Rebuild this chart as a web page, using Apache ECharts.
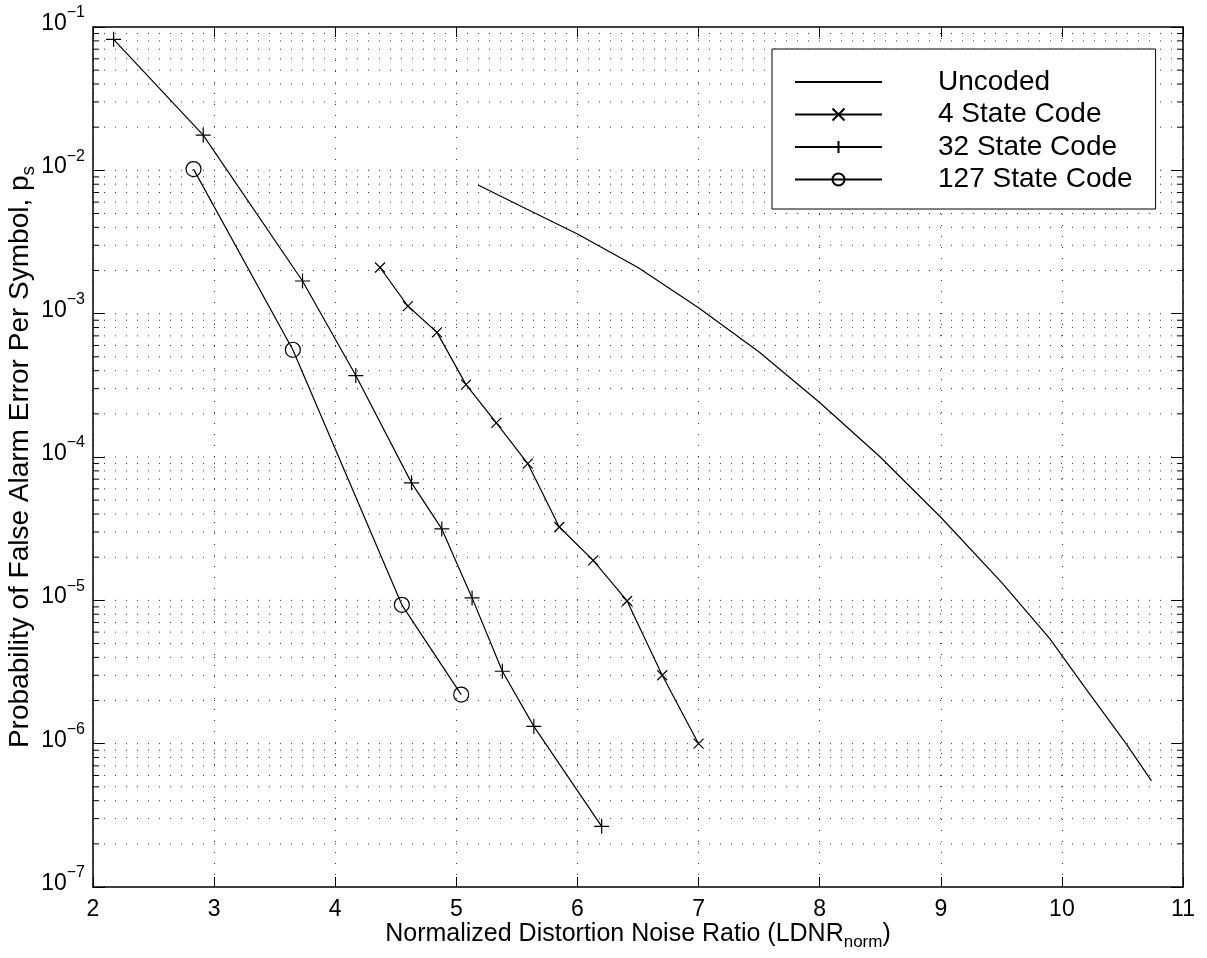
<!DOCTYPE html>
<html lang="en">
<head>
  <meta charset="UTF-8">
  <title>False alarm error vs LDNR</title>
  <script src="https://cdn.jsdelivr.net/npm/echarts@6/dist/echarts.min.js"></script>
  <style>
    html, body { margin: 0; padding: 0; background: #fff; }
    #chart { width: 1207px; height: 958px; }
  </style>
</head>
<body>
<div id="chart"></div>
<script>
  // axis ticks
  var xTicks = [2, 3, 4, 5, 6, 7, 8, 9, 10, 11];
  var yExponents = [-7, -6, -5, -4, -3, -2, -1];
  var minorSteps = [2, 3, 4, 5, 6, 7, 8, 9];

  var seriesNames = ['Uncoded', '4 State Code', '32 State Code', '127 State Code'];

  // values
  var uncodedX = [5.18, 5.5, 6.0, 6.5, 7.0, 7.5, 8.0, 8.5, 9.0, 9.5, 9.9, 10.2, 10.53, 10.74];
  var uncodedY = [7.9e-3, 5.8e-3, 3.6e-3, 2.1e-3, 1.1e-3, 5.4e-4, 2.4e-4, 1.0e-4, 3.8e-5, 1.34e-5, 5.4e-6, 2.4e-6, 1.0e-6, 5.5e-7];

  var state4X = [4.37, 4.60, 4.84, 5.08, 5.33, 5.59, 5.85, 6.13, 6.41, 6.70, 7.00];
  var state4Y = [2.1e-3, 1.13e-3, 7.4e-4, 3.2e-4, 1.73e-4, 9.0e-5, 3.25e-5, 1.9e-5, 9.9e-6, 3.0e-6, 1.0e-6];

  var state32X = [2.17, 2.91, 3.73, 4.17, 4.63, 4.88, 5.13, 5.38, 5.64, 6.20];
  var state32Y = [8.2e-2, 1.76e-2, 1.69e-3, 3.7e-4, 6.6e-5, 3.15e-5, 1.04e-5, 3.2e-6, 1.32e-6, 2.65e-7];

  var state127X = [2.83, 3.65, 4.55, 5.04];
  var state127Y = [1.02e-2, 5.6e-4, 9.3e-6, 2.2e-6];

  var FONT = '"Liberation Sans", Arial, Helvetica, sans-serif';
  var xMin = xTicks[0], xMax = xTicks[xTicks.length - 1];
  var yMin = Math.pow(10, yExponents[0]), yMax = Math.pow(10, yExponents[yExponents.length - 1]);

  function pairs(xs, ys) {
    return xs.map(function (x, i) { return [x, ys[i]]; });
  }

  // dotted horizontal grid (decades + 2..9 steps) and the small minor ticks,
  // drawn as broken line series so they go through the log axis
  var gridData = [];
  var minorTickData = [];
  var tickLen = 0.05;
  yExponents.forEach(function (e, i) {
    var base = Math.pow(10, e);
    if (i > 0 && i < yExponents.length - 1) {
      gridData.push([xMin, base], [xMax, base], [xMax, '-']);
    }
    if (i === yExponents.length - 1) return;
    minorSteps.forEach(function (k) {
      var v = k * base;
      gridData.push([xMin, v], [xMax, v], [xMax, '-']);
      minorTickData.push([xMin, v], [xMin + tickLen, v], [xMin, '-']);
      minorTickData.push([xMax - tickLen, v], [xMax, v], [xMax, '-']);
    });
  });

  var chart = echarts.init(document.getElementById('chart'));

  var lineStyle = { color: '#000', width: 1.2 };
  var markStyle = { color: 'rgba(0,0,0,0)', borderColor: '#000', borderWidth: 1.2 };
  var axisLine = { show: true, lineStyle: { color: '#000', width: 1.5 } };
  var nameRich = {
    b: { fontFamily: FONT, fontSize: 25, lineHeight: 26, verticalAlign: 'middle', color: '#000' },
    sub: { fontFamily: FONT, fontSize: 17, lineHeight: 16, padding: [16, 0, 0, 0], verticalAlign: 'middle', color: '#000' }
  };
  var yNameRich = {
    b: { fontFamily: FONT, fontSize: 28, lineHeight: 28, verticalAlign: 'middle', color: '#000' },
    sub: { fontFamily: FONT, fontSize: 19, lineHeight: 18, padding: [18, 0, 0, 0], verticalAlign: 'middle', color: '#000' }
  };

  var option = {
    animation: false,
    backgroundColor: '#fff',
    grid: { left: 93, right: 24, top: 27, bottom: 71, outerBoundsMode: 'none', containLabel: false },
    legend: {
      data: seriesNames,
      orient: 'vertical',
      left: 772,
      top: 49,
      padding: [19, 23, 15.5, 22],
      itemWidth: 87,
      itemHeight: 15,
      itemGap: 4.5,
      selectedMode: false,
      backgroundColor: '#fff',
      borderColor: '#000',
      borderWidth: 1,
      borderRadius: 0,
      textStyle: { fontFamily: FONT, fontSize: 28, color: '#000', padding: [0, 0, 0, 51] }
    },
    xAxis: [{
      type: 'value',
      position: 'bottom',
      min: xMin,
      max: xMax,
      interval: 1,
      axisLine: axisLine,
      axisTick: { inside: true, length: 10, lineStyle: { color: '#000', width: 1 } },
      axisLabel: { margin: 11, fontFamily: FONT, fontSize: 23, color: '#000' },
      splitLine: { show: true, lineStyle: { color: '#333', width: 1, type: [1, 10] } },
      name: '{b|Normalized Distortion Noise Ratio (LDNR}{sub|norm}{b|)}',
      nameLocation: 'middle',
      nameGap: 34,
      nameMoveOverlap: false,
      nameTextStyle: { fontFamily: FONT, color: '#000', rich: nameRich }
    }, {
      type: 'value',
      position: 'top',
      min: xMin,
      max: xMax,
      interval: 1,
      axisLine: axisLine,
      axisTick: { inside: true, length: 10, lineStyle: { color: '#000', width: 1 } },
      axisLabel: { show: false },
      splitLine: { show: false }
    }],
    yAxis: [{
      type: 'log',
      logBase: 10,
      position: 'left',
      min: yMin,
      max: yMax,
      splitNumber: 6,
      axisLine: axisLine,
      axisTick: { inside: true, length: 12, lineStyle: { color: '#000', width: 1 } },
      splitLine: { show: false },
      axisLabel: {
        margin: 8,
        padding: [0, 0, 6, 0],
        formatter: function (v) {
          var e = Math.round(Math.log10(v));
          return '{b|10}{sup|\u2212' + (-e) + '}';
        },
        rich: {
          b: { fontFamily: FONT, fontSize: 23, lineHeight: 22, verticalAlign: 'bottom', color: '#000' },
          sup: { fontFamily: FONT, fontSize: 16, lineHeight: 15, padding: [0, 0, 14, 0], verticalAlign: 'bottom', color: '#000' }
        }
      },
      name: '{b|Probability of False Alarm Error Per Symbol, p}{sub|s}',
      nameLocation: 'middle',
      nameRotate: 90,
      nameGap: 59,
      nameMoveOverlap: false,
      nameTextStyle: { fontFamily: FONT, color: '#000', rich: yNameRich }
    }, {
      type: 'log',
      logBase: 10,
      position: 'right',
      min: yMin,
      max: yMax,
      splitNumber: 6,
      axisLine: axisLine,
      axisTick: { inside: true, length: 12, lineStyle: { color: '#000', width: 1 } },
      axisLabel: { show: false },
      splitLine: { show: false }
    }],
    series: [{
      name: 'grid',
      type: 'line',
      data: gridData,
      symbol: 'none',
      connectNulls: false,
      silent: true,
      z: 1,
      lineStyle: { color: '#333', width: 1, type: [1, 10] }
    }, {
      name: 'ticks',
      type: 'line',
      data: minorTickData,
      symbol: 'none',
      connectNulls: false,
      silent: true,
      z: 1,
      lineStyle: { color: '#000', width: 1 }
    }, {
      name: seriesNames[0],
      type: 'line',
      data: pairs(uncodedX, uncodedY),
      symbol: 'circle',
      showSymbol: false,
      silent: true,
      z: 3,
      lineStyle: lineStyle,
      itemStyle: { color: 'rgba(0,0,0,0)', borderWidth: 0 }
    }, {
      name: seriesNames[1],
      type: 'line',
      data: pairs(state4X, state4Y),
      symbol: 'path://M0,0L10,10M10,0L0,10',
      symbolSize: 10,
      silent: true,
      z: 3,
      lineStyle: lineStyle,
      itemStyle: markStyle
    }, {
      name: seriesNames[2],
      type: 'line',
      data: pairs(state32X, state32Y),
      symbol: 'path://M5,0L5,10M0,5L10,5',
      symbolSize: 15,
      silent: true,
      z: 3,
      lineStyle: lineStyle,
      itemStyle: markStyle
    }, {
      name: seriesNames[3],
      type: 'line',
      data: pairs(state127X, state127Y),
      symbol: 'circle',
      symbolSize: 15,
      silent: true,
      z: 3,
      lineStyle: lineStyle,
      itemStyle: markStyle
    }]
  };

  chart.setOption(option);
</script>
</body>
</html>
